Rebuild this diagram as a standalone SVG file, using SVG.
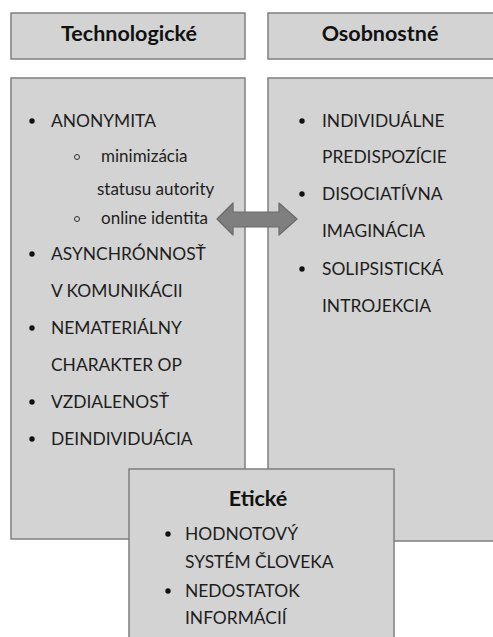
<svg xmlns="http://www.w3.org/2000/svg" width="493" height="637" viewBox="0 0 493 637">
<style>
.box{fill:#d3d3d3;stroke:#7f7f7f;stroke-width:1.5}
.t{font-family:Lato,"Open Sans","Liberation Sans",sans-serif;fill:#1e1e1e}
.h{font-size:21.5px;font-weight:bold;text-anchor:middle;fill:#111}
.i{font-size:17.4px}
.s{font-size:17px}
.b{fill:#111}
.o{fill:none;stroke:#333;stroke-width:1}
</style>
<rect width="493" height="637" fill="#fff"/>
<g id="hdr-tech">
<rect class="box" x="11" y="13" width="234" height="46"/>
<text class="t h" x="129" y="41">Technologické</text>
</g>
<g id="hdr-osob">
<rect class="box" x="268" y="13" width="240" height="46"/>
<text class="t h" x="380" y="41">Osobnostné</text>
</g>
<g id="tech">
<rect class="box" x="11" y="78" width="234" height="461"/>
<circle class="b" cx="32" cy="121" r="2.7"/>
<text class="t i" x="51" y="127">ANONYMITA</text>
<circle class="o" cx="77" cy="157" r="2.5"/>
<text class="t s" x="101" y="162">minimizácia</text>
<text class="t s" x="97" y="195">statusu autority</text>
<circle class="o" cx="77" cy="219" r="2.5"/>
<text class="t s" x="101" y="224">online identita</text>
<circle class="b" cx="32" cy="254" r="2.7"/>
<text class="t i" x="51" y="260">ASYNCHRÓNNOSŤ</text>
<text class="t i" x="51" y="297">V KOMUNIKÁCII</text>
<circle class="b" cx="32" cy="328" r="2.7"/>
<text class="t i" x="51" y="334">NEMATERIÁLNY</text>
<text class="t i" x="51" y="371">CHARAKTER OP</text>
<circle class="b" cx="32" cy="402" r="2.7"/>
<text class="t i" x="51" y="408">VZDIALENOSŤ</text>
<circle class="b" cx="32" cy="439" r="2.7"/>
<text class="t i" x="51" y="445">DEINDIVIDUÁCIA</text>
</g>
<g id="osob">
<rect class="box" x="268" y="78" width="240" height="463"/>
<circle class="b" cx="302" cy="121" r="2.7"/>
<text class="t i" x="322" y="127">INDIVIDUÁLNE</text>
<text class="t i" x="322" y="163">PREDISPOZÍCIE</text>
<circle class="b" cx="302" cy="194" r="2.7"/>
<text class="t i" x="322" y="200">DISOCIATÍVNA</text>
<text class="t i" x="322" y="237">IMAGINÁCIA</text>
<circle class="b" cx="302" cy="269" r="2.7"/>
<text class="t i" x="322" y="275">SOLIPSISTICKÁ</text>
<text class="t i" x="322" y="312">INTROJEKCIA</text>
</g>
<g id="connectors">
<path d="M217 219 L233 203 L233 212 L279 212 L279 203 L297 219 L279 235 L279 227 L233 227 L233 235 Z" fill="#7f7f7f" stroke="#6a6a6a" stroke-width="1.2" stroke-linejoin="round"/>
</g>
<g id="eticke">
<rect class="box" x="129" y="469" width="265" height="180"/>
<text class="t h" x="258" y="506">Etické</text>
<circle class="b" cx="168" cy="534" r="2.7"/>
<text class="t i" x="185" y="540">HODNOTOVÝ</text>
<text class="t i" x="185" y="568">SYSTÉM ČLOVEKA</text>
<circle class="b" cx="168" cy="591" r="2.7"/>
<text class="t i" x="185" y="597">NEDOSTATOK</text>
<text class="t i" x="185" y="624">INFORMÁCIÍ</text>
</g>
</svg>
